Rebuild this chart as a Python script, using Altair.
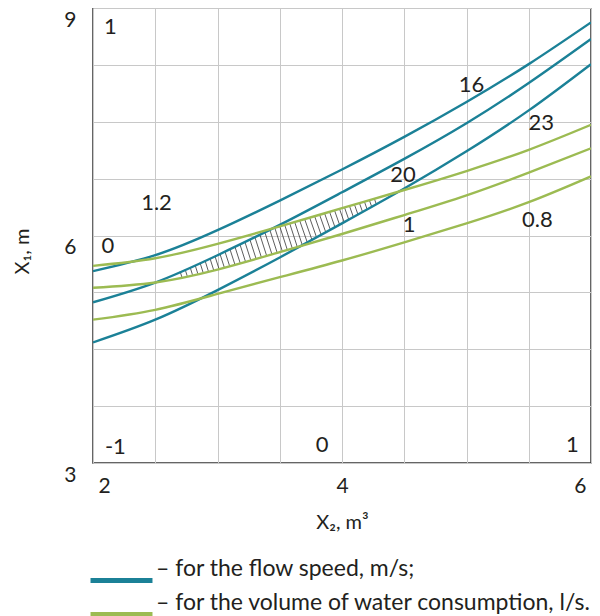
import altair as alt
import numpy as np
import pandas as pd

# ---- data ----
x_vals = [2.0, 2.5, 3.0, 3.5, 4.0, 4.5, 5.0, 5.5, 6.0]
speed_16 = [5.53, 5.74, 6.07, 6.46, 6.87, 7.30, 7.76, 8.26, 8.81]
speed_20 = [5.12, 5.38, 5.74, 6.14, 6.57, 7.01, 7.48, 8.01, 8.59]
speed_23 = [4.59, 4.89, 5.28, 5.71, 6.16, 6.62, 7.11, 7.65, 8.26]
flow_12 = [5.60, 5.70, 5.89, 6.12, 6.36, 6.60, 6.85, 7.13, 7.46]
flow_10 = [5.31, 5.38, 5.55, 5.78, 6.02, 6.27, 6.53, 6.83, 7.15]
flow_08 = [4.89, 5.02, 5.23, 5.45, 5.67, 5.91, 6.16, 6.44, 6.78]

legend_speed = "– for the flow speed, m/s;"
legend_flow = "– for the volume of water consumption, l/s."

ann_text = ["1", "1.2", "0", "-1", "0", "1", "16", "20", "23", "1", "0.8"]
ann_x = [2.14, 2.51, 2.12, 2.18, 3.84, 5.85, 5.04, 4.49, 5.60, 4.54, 5.57]
ann_y = [8.75, 6.43, 5.86, 3.21, 3.24, 3.24, 7.99, 6.80, 7.48, 6.14, 6.21]

TEAL = "#1b8197"
GREEN = "#9cbb52"
FONT = "Lato"
TXT = "#231f20"

# ---- tables ----
rows = []
for name, ys, grp in [
    ("s16", speed_16, legend_speed), ("s20", speed_20, legend_speed), ("s23", speed_23, legend_speed),
    ("f12", flow_12, legend_flow), ("f10", flow_10, legend_flow), ("f08", flow_08, legend_flow),
]:
    for xv, yv in zip(x_vals, ys):
        rows.append({"x": xv, "y": yv, "curve": name, "group": grp})
lines_df = pd.DataFrame(rows)

# hatch: region between max(flow 1, speed 23) and min(flow 1.2, speed 20)
def upper(v):
    return np.minimum(np.interp(v, x_vals, speed_20), np.interp(v, x_vals, flow_12))

def lower(v):
    return np.maximum(np.interp(v, x_vals, speed_23), np.interp(v, x_vals, flow_10))

h = []
for x0 in np.arange(2.5, 4.6, 0.04):
    top = upper(x0)
    gap = top - lower(x0)
    if gap < 0.06:
        continue
    x1 = x0 + 0.18 * gap
    bot = lower(x1)
    if top - bot < 0.06:
        continue
    h.append({"x": x0, "y": top, "x2": x1, "y2": bot})
hatch_df = pd.DataFrame(h)

ann_df = pd.DataFrame({"t": ann_text, "x": ann_x, "y": ann_y})

xs = alt.Scale(domain=[2, 6], nice=False, zero=False)
ys = alt.Scale(domain=[3, 9], nice=False, zero=False)

x_axis = alt.Axis(
    values=[2, 2.5, 3, 3.5, 4, 4.5, 5, 5.5, 6],
    labelExpr="datum.value % 2 == 0 ? format(datum.value, 'd') : ''",
    title="X₂, m³", titleFontSize=20, titleFont=FONT, titleColor=TXT, titleFontWeight="normal",
    titlePadding=16,
    labelFontSize=21, labelFont=FONT, labelColor=TXT, labelPadding=12, labelFlush=True,
    labelFlushOffset=-5,
    ticks=False, domain=False, grid=True, gridColor="#c8c8c8", gridWidth=1,
)
y_axis = alt.Axis(
    values=[3, 3.75, 4.5, 5.25, 6, 6.75, 7.5, 8.25, 9],
    labelExpr="datum.value % 3 == 0 ? format(datum.value, 'd') : ''",
    title="X₁, m", titleFontSize=20, titleFont=FONT, titleColor=TXT, titleFontWeight="normal",
    titlePadding=31, titleY=243,
    labelFontSize=21, labelFont=FONT, labelColor=TXT, labelPadding=17, labelBaseline="top",
    labelOffset=1,
    ticks=False, domain=False, grid=True, gridColor="#c8c8c8", gridWidth=1,
)

lines = alt.Chart(lines_df).mark_line(interpolate="natural", strokeWidth=2.4, clip=True).encode(
    x=alt.X("x:Q", scale=xs, axis=x_axis),
    y=alt.Y("y:Q", scale=ys, axis=y_axis),
    detail="curve:N",
    color=alt.Color(
        "group:N",
        scale=alt.Scale(domain=[legend_speed, legend_flow], range=[TEAL, GREEN]),
        legend=alt.Legend(
            title=None, orient="none", legendX=17, legendY=561, symbolType="M-8,0H8",
            symbolSize=60, symbolStrokeWidth=5, labelFontSize=23, labelFont=FONT,
            labelColor=TXT, labelBaseline="bottom", labelOffset=23, rowPadding=0,
            padding=0, labelLimit=520,
        ),
    ),
)

hatch = alt.Chart(hatch_df).mark_rule(color="#333333", strokeWidth=0.8).encode(
    x="x:Q", y="y:Q", x2="x2:Q", y2="y2:Q"
)

ann = alt.Chart(ann_df).mark_text(fontSize=22, font=FONT, color=TXT, align="center", baseline="middle").encode(
    x="x:Q", y="y:Q", text="t:N"
)

chart = alt.layer(hatch, lines, ann).properties(
    width=498, height=455,
    autosize=alt.AutoSizeParams(type="none"),
    padding={"left": 85, "top": 0, "right": 1, "bottom": 153},
).configure_view(stroke="#333333", strokeWidth=1.5)

chart.save("out.html", embed_options={"renderer": "svg", "actions": False})
